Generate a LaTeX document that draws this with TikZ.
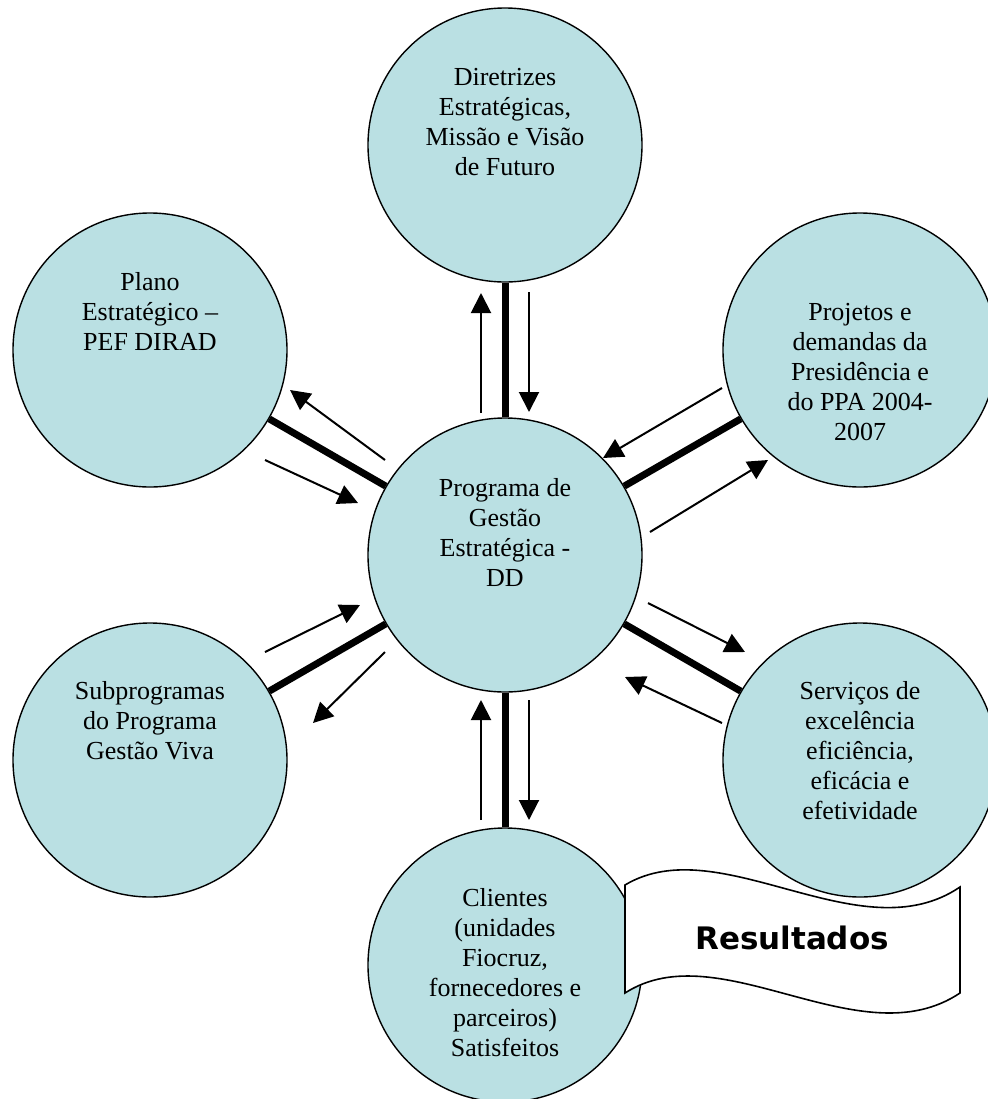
\documentclass[tikz,border=0pt]{standalone}
\usepackage{fontspec}
\setmainfont{Liberation Serif}
\newfontfamily\faixafont{DejaVu Sans}
\usetikzlibrary{arrows.meta}

\definecolor{discoazul}{HTML}{BAE0E3}

\tikzset{
  disco/.style={circle, draw=black, line width=0.7pt, fill=discoazul,
                minimum size=137pt, inner sep=0pt},
  discotxt/.style={align=center, inner sep=0pt, font=\fontsize{13}{15}\selectfont},
  raio/.style={line width=3.5pt},
  fluxo/.style={line width=1pt, -{Triangle[length=10pt,width=10pt]}},
}

\begin{document}
\begin{tikzpicture}[x=0.5pt, y=-0.5pt]
\useasboundingbox (0,0) rectangle (987,1099);

% circulos
\node[disco] (prog)  at (505,555) {};
\node[disco] (dir)   at (505,145) {};
\node[disco] (plano) at (150,350) {};
\node[disco] (proj)  at (860,350) {};
\node[disco] (sub)   at (150,760) {};
\node[disco] (serv)  at (860,760) {};
\node[disco] (cli)   at (505,965) {};

% ligacoes grossas
\draw[raio] (prog) -- (dir);
\draw[raio] (prog) -- (plano);
\draw[raio] (prog) -- (proj);
\draw[raio] (prog) -- (sub);
\draw[raio] (prog) -- (serv);
\draw[raio] (prog) -- (cli);

% pontas das setas finas
\coordinate (dirvai1) at (481,413);   \coordinate (dirvai2) at (481,293);
\coordinate (dirvem1) at (529,292);   \coordinate (dirvem2) at (529,412);
\coordinate (clivem1) at (481,820);   \coordinate (clivem2) at (481,700);
\coordinate (clivai1) at (529,700);   \coordinate (clivai2) at (529,820);
\coordinate (planovai1) at (385,460); \coordinate (planovai2) at (290,390);
\coordinate (planovem1) at (265,460); \coordinate (planovem2) at (358,503);
\coordinate (projvem1) at (722,388);  \coordinate (projvem2) at (603,458);
\coordinate (projvai1) at (650,532);  \coordinate (projvai2) at (768,460);
\coordinate (subvem1) at (265,652);   \coordinate (subvem2) at (360,605);
\coordinate (subvai1) at (385,652);   \coordinate (subvai2) at (313,723);
\coordinate (servvai1) at (648,603);  \coordinate (servvai2) at (745,652);
\coordinate (servvem1) at (722,723);  \coordinate (servvem2) at (625,677);

% setas finas
\draw[fluxo] (dirvai1) -- (dirvai2);
\draw[fluxo] (dirvem1) -- (dirvem2);
\draw[fluxo] (clivem1) -- (clivem2);
\draw[fluxo] (clivai1) -- (clivai2);
\draw[fluxo] (planovai1) -- (planovai2);
\draw[fluxo] (planovem1) -- (planovem2);
\draw[fluxo] (projvem1) -- (projvem2);
\draw[fluxo] (projvai1) -- (projvai2);
\draw[fluxo] (subvem1) -- (subvem2);
\draw[fluxo] (subvai1) -- (subvai2);
\draw[fluxo] (servvai1) -- (servvai2);
\draw[fluxo] (servvem1) -- (servvem2);

% faixa
\draw[line width=0.8pt, fill=white] (625,885) .. controls (720,828) and (860,955) .. (960,887)
  -- (960,993) .. controls (860,1060) and (720,932) .. (625,993) -- cycle;

% textos
\node[discotxt] (dirtxt)   at (505,122) {Diretrizes\\Estratégicas,\\Missão e Visão\\de Futuro};
\node[discotxt] (progtxt)  at (505,532) {Programa de\\Gestão\\Estratégica -\\DD};
\node[discotxt] (planotxt) at (150,311) {Plano\\Estratégico –\\PEF DIRAD};
\node[discotxt] (projtxt)  at (860,372) {Projetos e\\demandas da\\Presidência e\\do PPA 2004-\\2007};
\node[discotxt] (subtxt)   at (150,721) {Subprogramas\\do Programa\\Gestão Viva};
\node[discotxt] (servtxt)  at (860,751) {Serviços de\\excelência\\eficiência,\\eficácia e\\efetividade};
\node[discotxt] (clitxt)   at (505,973) {Clientes\\(unidades\\Fiocruz,\\fornecedores e\\parceiros)\\Satisfeitos};
\node[inner sep=0pt, font=\faixafont\bfseries\fontsize{15.5}{18}\selectfont] (res) at (792,938) {Resultados};
\end{tikzpicture}
\end{document}
